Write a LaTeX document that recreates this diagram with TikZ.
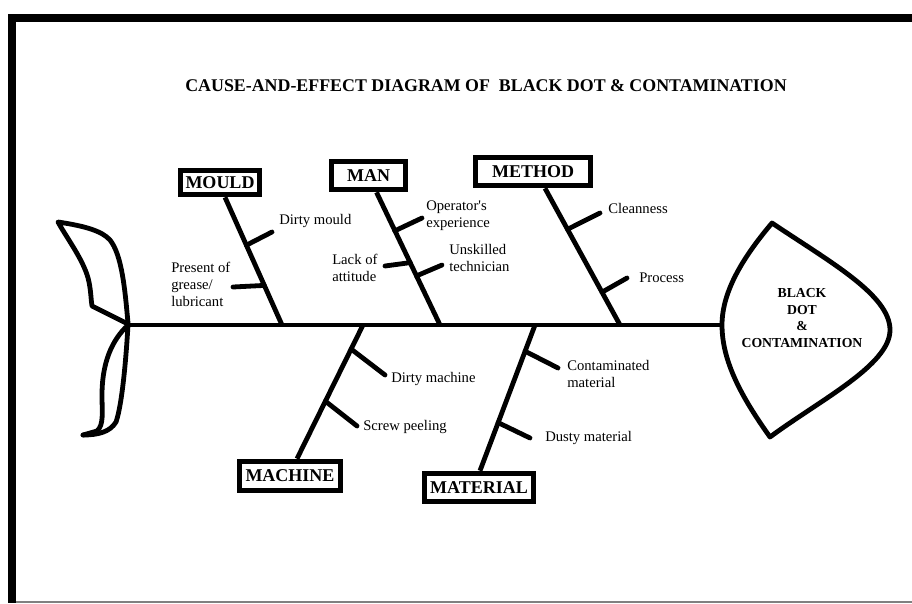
\documentclass[tikz,border=0pt]{standalone}
\usepackage{fontspec}
\setmainfont{Liberation Serif}
\usetikzlibrary{calc}
\begin{document}
\begin{tikzpicture}[x=0.75pt,y=-0.75pt,
  bone/.style={line width=3.6pt},
  tick/.style={line width=3.6pt, line cap=round},
  fishline/.style={line width=3.6pt, line join=round, line cap=round},
  catbox/.style={draw, line width=4.2pt, inner sep=0pt, font=\fontsize{13.5}{16}\selectfont\bfseries},
  cause/.style={anchor=west, inner sep=0pt, align=left, font=\fontsize{11}{12.75}\selectfont},
]
\useasboundingbox (0,0) rectangle (912,603);
% frame
\fill[black] (8,14) rectangle (912,22);
\fill[black] (8,14) rectangle (16,603);
\fill[gray] (16,601) rectangle (912,603);

% title
\node[font=\fontsize{13.4}{16}\selectfont\bfseries] (title) at (486,86) {CAUSE-AND-EFFECT DIAGRAM OF\ \ BLACK DOT \& CONTAMINATION};

% category boxes
\node[catbox, minimum width=59.25pt, minimum height=18pt] (mould) at (220,182.5) {MOULD};
\node[catbox, minimum width=55.5pt, minimum height=21pt] (man) at (368.5,175.5) {MAN};
\node[catbox, minimum width=86.25pt, minimum height=21pt] (method) at (533,171.5) {METHOD};
\node[catbox, minimum width=75.75pt, minimum height=21.75pt] (machine) at (290,476) {MACHINE};
\node[catbox, minimum width=81.75pt, minimum height=21pt] (material) at (479,487.5) {MATERIAL};

% spine
\coordinate (tail) at (128,325);
\coordinate (headL) at (722,325);
\draw[bone] (tail) -- (headL);
\coordinate (s1) at (282,325);
\coordinate (s2) at (440,325);
\coordinate (s3) at (620,325);
\coordinate (s4) at (363,325);
\coordinate (s5) at (535,325);

% bones
\draw[bone] ($(mould.south)+(5,0)$) coordinate (b1) -- (s1);
\draw[bone] ($(man.south)+(8,0)$) coordinate (b2) -- (s2);
\draw[bone] ($(method.south)+(12,0)$) coordinate (b3) -- (s3);
\draw[bone] (s4) -- ($(machine.north)+(7,0)$) coordinate (b4);
\draw[bone] (s5) -- ($(material.north)+(1,0)$) coordinate (b5);

% tick ends
\coordinate (t1) at (272,232);
\coordinate (t2) at (233,287);
\coordinate (t3) at (422,218);
\coordinate (t4) at (385,266);
\coordinate (t5) at (442,265);
\coordinate (t6) at (600,213);
\coordinate (t7) at (627,278);
\coordinate (t8) at (385,375);
\coordinate (t9) at (357,426);
\coordinate (t10) at (558,368);
\coordinate (t11) at (530,438);

\draw[tick] ($(b1)!.375!(s1)$) -- (t1);
\draw[tick] ($(b1)!.69!(s1)$) -- (t2);
\draw[tick] ($(b2)!.29!(s2)$) -- (t3);
\draw[tick] ($(b2)!.53!(s2)$) -- (t4);
\draw[tick] ($(b2)!.63!(s2)$) -- (t5);
\draw[tick] ($(b3)!.30!(s3)$) -- (t6);
\draw[tick] ($(b3)!.76!(s3)$) -- (t7);
\draw[tick] ($(s4)!.18!(b4)$) -- (t8);
\draw[tick] ($(s4)!.57!(b4)$) -- (t9);
\draw[tick] ($(s5)!.18!(b5)$) -- (t10);
\draw[tick] ($(s5)!.67!(b5)$) -- (t11);

% cause labels
\node[cause] (l1) at (279,221) {Dirty mould};
\node[cause] (l2) at (171,284) {Present of\\grease/\\lubricant};
\node[cause] (l3) at (426,215.5) {Operator\textquotesingle s\\experience};
\node[cause] (l4) at (332,268) {Lack of\\attitude};
\node[cause] (l5) at (449,258) {Unskilled\\technician};
\node[cause] (l6) at (608,208) {Cleanness};
\node[cause] (l7) at (639,278) {Process};
\node[cause] (l8) at (391,379) {Dirty machine};
\node[cause] (l9) at (363,427) {Screw peeling};
\node[cause] (l10) at (567,373.5) {Contaminated\\material};
\node[cause] (l11) at (545,438) {Dusty material};

% tail
\draw[fishline] (128,323) .. controls (125,290) and (122,255) .. (110,240)
  .. controls (102,231) and (85,226) .. (58,222)
  .. controls (68,240) and (85,262) .. (89,282)
  .. controls (91,292) and (91,300) .. (92,306) -- (126,323);
\draw[fishline] (128,325) .. controls (126,360) and (122,405) .. (116,422)
  .. controls (110,432) and (98,435) .. (83,435);
\draw[fishline] (126,327) .. controls (108,345) and (102,370) .. (102,395)
  .. controls (102,412) and (104,425) .. (97,431) -- (83,435);

% head
\draw[fishline] (772,223) .. controls (830,262) and (890,295) .. (890,330)
  .. controls (890,365) and (820,400) .. (770,437)
  .. controls (740,395) and (722,360) .. (headL)
  .. controls (722,290) and (745,255) .. cycle;
\node[font=\fontsize{10.3}{12.5}\selectfont\bfseries, align=center] (effect) at (802,318) {BLACK\\DOT\\\&\\CONTAMINATION};
\end{tikzpicture}
\end{document}
